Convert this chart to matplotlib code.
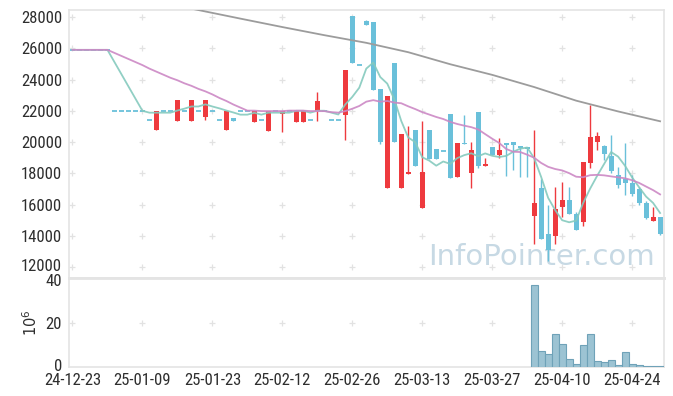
import os
import numpy as np
import pandas as pd
import matplotlib
matplotlib.use("Agg")
import matplotlib.pyplot as plt
from matplotlib import font_manager
from matplotlib.transforms import ScaledTranslation

# ---------------- data ----------------
x_labels = ["24-12-23", "25-01-09", "25-01-23", "25-02-12", "25-02-26",
            "25-03-13", "25-03-27", "25-04-10", "25-04-24"]
x_label_pos = [0, 10, 20, 30, 40, 50, 60, 70, 80]

opens = [25900, 25900, 25900, 25900, 25900, 25900,
         22000, 22000, 22000, 22000, 22000, 21400, 20770, 22000, 22000, 21370,
         22000, 21370, 22000, 21620, 22000, 21400, 20770, 21560, 22000, 22000,
         21300, 21400, 20720, 22000, 21770, 22000, 21300, 21300, 21400, 21980,
         22000, 21400, 21400, 21730, 28080, 24950, 27750, 27680, 23390, 17080,
         25080, 17080, 17950, 20770, 15780, 20770, 19550, 19400, 21790, 17780,
         19940, 17990, 21940, 18480, 19710, 19170, 19940, 19990, 19720, 19700,
         15280, 17060, 14110, 13960, 15820, 16290, 15380, 14890, 18680, 20020,
         19740, 19100, 17890, 17640, 17360, 16980, 16080, 14960, 15180]
highs = [25900, 25900, 25900, 25900, 25900, 25900,
         22000, 22000, 22000, 22000, 22000, 21400, 22000, 22000, 22000, 22690,
         22000, 22690, 22000, 22690, 22000, 21400, 22000, 21560, 22000, 22000,
         22000, 21400, 22000, 22000, 22000, 22000, 22000, 22000, 21400, 23180,
         22000, 21400, 21400, 24610, 28080, 24950, 27800, 27680, 23390, 22940,
         25080, 20510, 21000, 20770, 21340, 20770, 19550, 19400, 21790, 19940,
         21730, 19980, 21940, 18960, 19710, 20240, 19940, 20020, 19720, 19700,
         20750, 17610, 16000, 17100, 17460, 17100, 15500, 18720, 22370, 20660,
         19800, 20450, 18420, 19960, 17890, 17100, 16200, 15860, 15180]
lows = [25900, 25900, 25900, 25900, 25900, 25900,
        22000, 22000, 22000, 22000, 22000, 21400, 20770, 22000, 22000, 21370,
        22000, 21370, 22000, 21400, 22000, 21400, 20770, 21370, 22000, 22000,
        21300, 21400, 20720, 22000, 20620, 22000, 21300, 21300, 21400, 21340,
        22000, 21400, 21400, 20130, 25040, 24950, 27500, 23330, 19870, 17080,
        19980, 17080, 17950, 18480, 15780, 18910, 18890, 19400, 17710, 17780,
        19870, 17040, 18360, 18480, 19170, 18960, 17840, 18210, 17760, 17760,
        13460, 13790, 12400, 13460, 15180, 15400, 14340, 14640, 18320, 19490,
        18850, 18030, 17040, 16610, 16540, 15960, 15050, 14960, 14020]
closes = [25900, 25900, 25900, 25900, 25900, 25900,
          22000, 22000, 22000, 22000, 22000, 21400, 22000, 22000, 22000, 22690,
          22000, 22690, 22000, 22690, 22000, 21400, 22000, 21370, 22000, 22000,
          22000, 21400, 22000, 22000, 22000, 22000, 22000, 22000, 21400, 22620,
          22000, 21400, 21400, 24610, 25040, 24950, 27500, 23330, 19980, 22940,
          19980, 20510, 18060, 18480, 18100, 18910, 18890, 19400, 17710, 19940,
          19870, 19490, 18460, 18610, 19170, 19490, 19830, 19790, 19600, 19540,
          16080, 13810, 13110, 15700, 16290, 15420, 14340, 18720, 20320, 20380,
          19230, 18160, 17250, 17360, 16700, 16080, 15160, 15220, 14140]
# closes before the first shown day (flat, read from the moving averages)
pre_close = 25900
pre_days = 19

volume_idx = list(range(66, 85))
volume_mil = [37, 7.3, 6.0, 15, 10.5, 3.7, 1.4, 10, 15, 2.8, 2.4, 3.2,
              0.9, 6.8, 1.4, 0.9, 0.45, 0.45, 0.45]

# long moving average
ma60_idx = [17, 24, 30, 36, 42, 48, 54, 60, 66, 72, 78, 84]
ma60_val = [28540, 27900, 27360, 26840, 26350, 25750, 24980, 24300,
            23520, 22650, 21960, 21330]

# ---------------- fonts ----------------
def find_narrow():
    files = set(font_manager.findSystemFonts())
    files |= {f.fname for f in font_manager.fontManager.ttflist}
    prefs = [("RobotoCondensed-Regular", 12.0),
             ("Roboto_Condensed-Regular", 12.0),
             ("LiberationSansNarrow-Regular", 11.5),
             ("DejaVuSansCondensed.ttf", 9.5)]
    for key, size in prefs:
        for fp in sorted(files):
            base = os.path.basename(fp)
            if base.startswith(key) or base == key:
                try:
                    font_manager.fontManager.addfont(fp)
                    return font_manager.FontProperties(fname=fp), size
                except Exception:
                    pass
    return None, 9.0

narrow_fp, tick_size = find_narrow()

RED = "#ee3a3e"
BLUE = "#6ac0da"
TEAL = "#85cabe"
PURPLE = "#cc88c5"
GRAY = "#9c9c9c"
SPINE = "#e4e4e4"
GRIDC = "#e2e2e2"
TXT = "#2e2e2e"

fig = plt.figure(figsize=(6.73, 3.96), dpi=100)
ax = fig.add_axes([0.1025, 0.298, 0.8835, 0.6767])
axv = fig.add_axes([0.1025, 0.0732, 0.8835, 0.2248])

n = len(closes)
idx = np.arange(n)
o = np.array(opens, float)
h = np.array(highs, float)
l = np.array(lows, float)
c = np.array(closes, float)

# grid crosses
yt = np.arange(12000, 28001, 2000)
gx, gy = np.meshgrid(x_label_pos, yt)
ax.plot(gx.ravel(), gy.ravel(), ls="none", marker="+", ms=5, mew=0.9,
        color=GRIDC, zorder=0)
gx2, gy2 = np.meshgrid(x_label_pos, [20])
axv.plot(gx2.ravel(), gy2.ravel(), ls="none", marker="+", ms=5, mew=0.9,
         color=GRIDC, zorder=0)

# watermark
ax.text(0.985, 0.025, "InfoPointer.com", transform=ax.transAxes,
        ha="right", va="bottom", fontsize=21, color="#c7d9e4",
        family=["DejaVu Sans"], zorder=1)

# candles
up = c > o
down = c < o
flat = c == o
w = 0.72
ax.vlines(idx[up], l[up], h[up], color=RED, lw=1.0, zorder=3)
ax.vlines(idx[down], l[down], h[down], color=BLUE, lw=1.0, zorder=3)
ax.bar(idx[up], (c - o)[up], bottom=o[up], width=w, color=RED,
       edgecolor="none", zorder=3)
ax.bar(idx[down], (o - c)[down], bottom=c[down], width=w, color=BLUE,
       edgecolor="none", zorder=3)
ax.hlines(c[flat], idx[flat] - w / 2, idx[flat] + w / 2, color=BLUE,
          lw=1.3, zorder=3)

# moving averages
full = pd.Series([pre_close] * pre_days + list(closes), dtype=float)
ma5 = full.rolling(5).mean().values[pre_days:]
ma20 = full.rolling(20).mean().values[pre_days:]
ax.plot(idx, ma5, color=TEAL, lw=1.3, alpha=0.9, zorder=4)
ax.plot(idx, ma20, color=PURPLE, lw=1.3, alpha=0.9, zorder=4)
ax.plot(ma60_idx, ma60_val, color=GRAY, lw=1.3, zorder=4)

ax.set_xlim(-0.5, n - 0.5)
ax.set_ylim(11300, 28450)
ax.set_yticks(yt)
ax.set_yticklabels([str(v) for v in yt])
ax.set_xticks(x_label_pos)
ax.tick_params(axis="x", labelbottom=False, length=0)
ax.tick_params(axis="y", length=0, labelsize=tick_size, colors=TXT, pad=5)

# volume
axv.bar(volume_idx, volume_mil, width=1.0, color="#9cc3d3",
        edgecolor="#6fa2b8", linewidth=0.8, zorder=3)
axv.set_xlim(-0.5, n - 0.5)
axv.set_ylim(0, 40)
axv.set_yticks([0, 20, 40])
axv.set_xticks(x_label_pos)
axv.set_xticklabels(x_labels)
axv.tick_params(length=0, labelsize=tick_size, colors=TXT, pad=5)
axv.tick_params(axis="x", pad=4.5)
axv.set_ylabel(r"$10^6$", fontsize=10.5, color=TXT, labelpad=4)

if narrow_fp is not None:
    for a in (ax, axv):
        for lab in a.get_yticklabels() + a.get_xticklabels():
            lab.set_fontproperties(narrow_fp)
            lab.set_fontsize(tick_size)

# small nudges so the stacked edge labels do not collide
def nudge(label, dy_px):
    label.set_transform(label.get_transform() +
                        ScaledTranslation(0, dy_px / 100.0, fig.dpi_scale_trans))

ylabs_price = ax.yaxis.get_majorticklabels()
nudge(ylabs_price[0], 2.0)        # 12000
ylabs_vol = axv.yaxis.get_majorticklabels()
nudge(ylabs_vol[0], 2.5)          # 0
nudge(ylabs_vol[-1], -2.0)        # 40

for a in (ax, axv):
    for s in a.spines.values():
        s.set_color(SPINE)
        s.set_linewidth(1.2)
ax.spines["bottom"].set_linewidth(2.0)
axv.spines["top"].set_linewidth(2.0)

fig.savefig("out.png", dpi=100)
